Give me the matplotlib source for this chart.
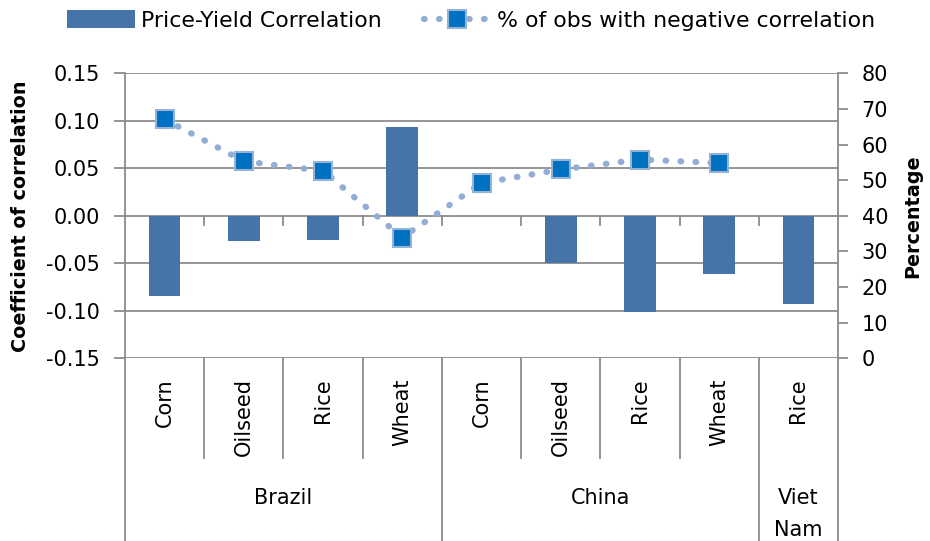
import numpy as np
import matplotlib
matplotlib.use("Agg")
import matplotlib.pyplot as plt
from matplotlib.lines import Line2D
from matplotlib.patches import Patch

plt.rcParams['font.family'] = ['DejaVu Sans']
plt.rcParams['axes.unicode_minus'] = False

# data
crops = ["Corn", "Oilseed", "Rice", "Wheat", "Corn", "Oilseed", "Rice", "Wheat", "Rice"]
countries = ["Brazil", "China", "Viet\nNam"]
country_size = [4, 4, 1]
corr = [-0.084, -0.027, -0.025, 0.094, 0.0, -0.050, -0.101, -0.061, -0.093]
pct_neg = [67.1, 55.3, 52.6, 33.9, 49.2, 53.0, 55.8, 54.8, np.nan]

bar_col = '#4673A8'
grid_col = '#8C8C8C'
fs = 15

fig = plt.figure(figsize=(9.3, 5.41), dpi=100)
ax = fig.add_axes([0.1344, 0.3377, 0.9011 - 0.1344, 0.8645 - 0.3377])
x = np.arange(len(crops))

ax.bar(x, corr, width=0.4, color=bar_col, zorder=3)
ax.set_xlim(-0.5, len(crops) - 0.5)
ax.set_ylim(-0.15, 0.15)
yt = np.arange(-0.15, 0.151, 0.05)
ax.set_yticks(yt)
ax.set_yticklabels(["%.2f" % v for v in yt], fontsize=fs)
ax.yaxis.grid(True, color=grid_col, lw=1.3, zorder=0)
ax.set_xticks([])
for s in ['top', 'bottom', 'right']:
    ax.spines[s].set_visible(False)
ax.spines['left'].set_color(grid_col)
ax.spines['left'].set_linewidth(1.3)
ax.tick_params(axis='y', length=8, width=1.3, color=grid_col, pad=10)
ax.set_ylabel("Coefficient of correlation", fontsize=13.8, fontweight='bold')
ax.yaxis.set_label_coords(-0.1332, 0.5)

# small ticks on the zero line at category boundaries
for b in np.arange(0.5, len(crops) - 0.5):
    ax.plot([b, b], [0, -0.0095], color=grid_col, lw=1.3, zorder=2)

ax2 = ax.twinx()
line_kw = dict(ls=(0, (0.1, 2.3)), lw=4.5, dash_capstyle='round', color='#93AED5',
               marker='s', markersize=12.5, markerfacecolor='#0070C0',
               markeredgecolor='#95B3D7', markeredgewidth=1.5)
ax2.plot(x, pct_neg, zorder=4, **line_kw)
ax2.set_ylim(0, 80)
ax2.set_yticks(np.arange(0, 81, 10))
ax2.tick_params(axis='y', labelsize=fs, length=7, width=1.3, color=grid_col, pad=10)
for s in ['top', 'bottom', 'left']:
    ax2.spines[s].set_visible(False)
ax2.spines['right'].set_color(grid_col)
ax2.spines['right'].set_linewidth(1.3)
ax2.set_ylabel("Percentage", fontsize=13.8, fontweight='bold')
ax2.yaxis.set_label_coords(1.0912, 0.5)

# multi-level category axis
trans = ax.get_xaxis_transform()
ax_h = (0.8645 - 0.3377) * 541
def yfrac(px):
    return -px / ax_h

for i, c in enumerate(crops):
    ax.text(i, yfrac(20), c, rotation=90, ha='center', va='top', fontsize=15,
            transform=trans)
edges = np.concatenate([[0], np.cumsum(country_size)]) - 0.5
for b in np.arange(0.5, len(crops) - 0.5):
    if b in edges:
        continue
    ax.plot([b, b], [0, yfrac(100)], color=grid_col, lw=1.3, transform=trans, clip_on=False)
for b in edges:
    ax.plot([b, b], [0, yfrac(190)], color=grid_col, lw=1.3, transform=trans, clip_on=False)
for k, name in enumerate(countries):
    mid = (edges[k] + edges[k + 1]) / 2
    ax.text(mid, yfrac(130), name, ha='center', va='top', fontsize=fs,
            linespacing=1.75, transform=trans)

handles = [Patch(facecolor=bar_col, edgecolor='none'), Line2D([0], [0], **line_kw)]
fig.legend(handles, ["Price-Yield Correlation", "% of obs with negative correlation"],
           loc='center', bbox_to_anchor=(0.507, 0.962), ncol=2, frameon=False,
           fontsize=15.8, handlelength=3.06, handleheight=0.82, columnspacing=1.9,
           handletextpad=0.3)

fig.savefig("out.png", dpi=100)
